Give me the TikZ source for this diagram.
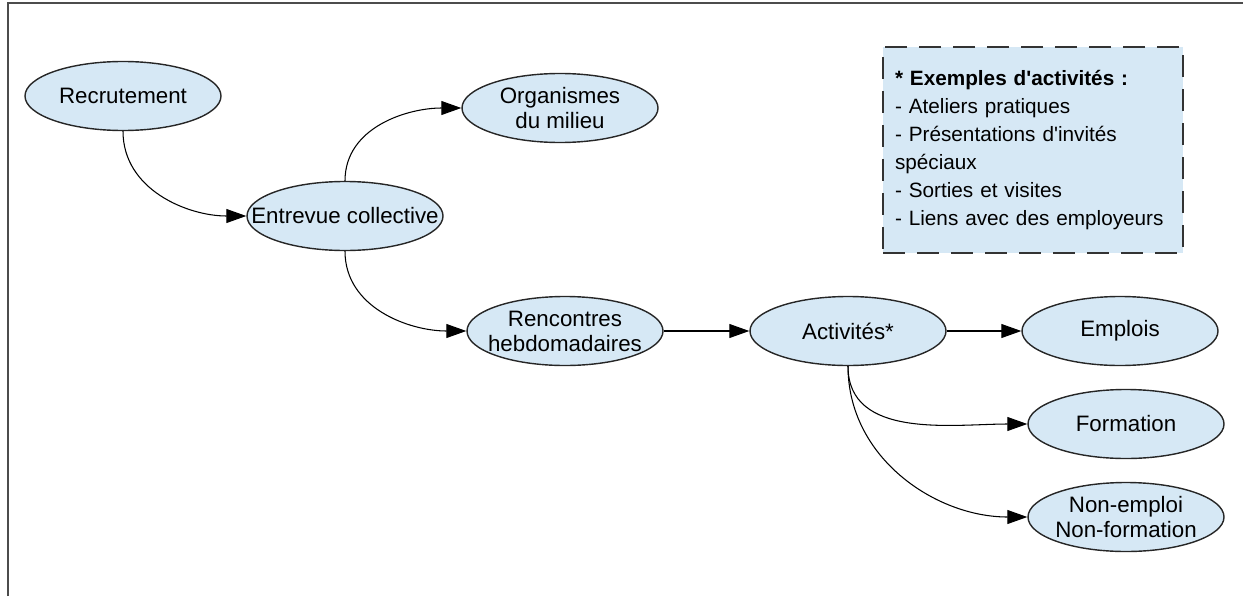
\documentclass[tikz,border=0pt]{standalone}
\usepackage{fontspec}
\setmainfont{Liberation Sans}
\usetikzlibrary{arrows.meta,shapes}

\definecolor{bleupale}{RGB}{214,232,245}

\begin{document}
\begin{tikzpicture}[>={Triangle[length=4mm,width=2.8mm]}]
      \tikzstyle{etape}=[ellipse,draw=black!85,line width=0.8pt,fill=bleupale,minimum width=3.92cm,minimum height=1.38cm,inner xsep=-5mm,inner ysep=0pt,align=center,font=\fontsize{12.7}{14.2}\selectfont]
      \tikzstyle{encadre}=[rectangle,draw=black!80,line width=1.1pt,dash pattern=on 4.4mm off 2.4mm,fill=bleupale,text width=5.52cm,minimum height=4.12cm,inner sep=2.4mm,align=left,font=\fontsize{11.8}{15.9}\selectfont]

      \useasboundingbox (0,0) rectangle (24.86,-11.92);

      % cadre ouvert
      \coordinate (coinbas) at (0.16,-11.92);
      \coordinate (coin) at (0.16,-0.06);
      \coordinate (coindroit) at (24.86,-0.06);
      \draw[line width=1.1pt,black!70] (coinbas) -- (coin) -- (coindroit);

      \begin{scope}
        \node[etape](recrut) at (2.46,-1.92){Recrutement};
        \node[etape](entrevue) at (6.90,-4.32){Entrevue collective};
        \node[etape](organismes) at (11.20,-2.16){Organismes\\du milieu};
        \node[etape](rencontres) at (11.30,-6.62){Rencontres\\hebdomadaires};
        \node[etape,node distance=5.66cm,right of=rencontres](activites){Activités*};
        \node[etape,node distance=5.44cm,right of=activites](emplois){Emplois};
        \node[etape,node distance=1.86cm,below of=emplois,xshift=1.2mm](formation){Formation};
        \node[etape,node distance=1.86cm,below of=formation](nonemploi){Non-emploi\\Non-formation};

        \path[->,line width=0.6pt]
        (recrut) edge[out=-90,in=180] (entrevue)
        (entrevue) edge[out=90,in=180] (organismes)
        (entrevue) edge[out=-90,in=180] (rencontres)
        (rencontres) edge (activites)
        (activites) edge (emplois)
        (activites) edge[out=-90,in=180] (formation)
        (activites) edge[out=-90,in=180] (nonemploi);
      \end{scope}

      \node[encadre](exemples) at (20.66,-3.0){\textbf{* Exemples d\textquotesingle activités :}\\
        - Ateliers pratiques\\
        - Présentations d\textquotesingle invités\\
        spéciaux\\
        - Sorties et visites\\
        - Liens avec des employeurs};
    \end{tikzpicture}
\end{document}
